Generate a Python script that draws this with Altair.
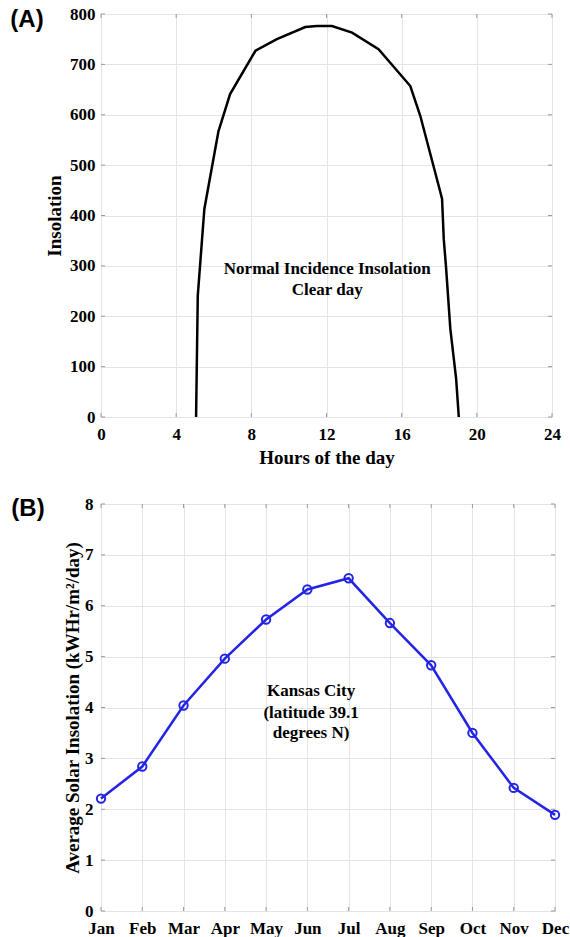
import altair as alt
import pandas as pd

# ---- Panel A data ----
hours = [5.06, 5.15, 5.50, 6.25, 6.87, 8.22, 9.36, 10.87, 11.49, 12.29, 13.36, 14.77, 16.46, 16.99, 17.97, 18.15, 18.24, 18.36, 18.59, 18.90, 19.04]
insolation = [0, 241, 413, 567, 641, 727, 750, 774, 776, 776, 763, 730, 657, 598, 459, 433, 353, 298, 175, 75, 0]
x_ticks_a = [0, 4, 8, 12, 16, 20, 24]
y_ticks_a = [0, 100, 200, 300, 400, 500, 600, 700, 800]
anno_a_text = ["Normal Incidence Insolation", "Clear day"]
anno_a_x = [12.04, 12.04]
anno_a_y = [294, 253]

# ---- Panel B data ----
months = ["Jan", "Feb", "Mar", "Apr", "May", "Jun", "Jul", "Aug", "Sep", "Oct", "Nov", "Dec"]
avg_insolation = [2.21, 2.84, 4.04, 4.96, 5.73, 6.32, 6.54, 5.66, 4.83, 3.50, 2.42, 1.89]
y_ticks_b = [0, 1, 2, 3, 4, 5, 6, 7, 8]
anno_b_text = ["Kansas City", "(latitude 39.1", "degrees N)"]
anno_b_x = [5.09, 5.09, 5.09]
anno_b_y = [4.32, 3.89, 3.50]

W_A, H_A = 451, 403
W_B, H_B = 454, 407
SERIF = "Liberation Serif"
SANS = "Liberation Sans"
TICK = 4
EDGE = "#9a9a9a"

def axis(values, title, orient, label_expr=None, title_pad=4, label_pad=6):
    kw = dict(values=values, title=title, orient=orient, grid=True, ticks=False, domain=False,
              labelFont=SERIF, labelFontWeight="bold", labelFontSize=17, labelColor="black",
              titleFont=SERIF, titleFontWeight="bold", titleFontSize=19, titleColor="black",
              gridColor="#e4e4e4", gridWidth=1, labelPadding=label_pad, titlePadding=title_pad,
              labelFlush=False)
    if label_expr:
        kw["labelExpr"] = label_expr
    return alt.Axis(**kw)

# ---------- Panel A ----------
dfa = pd.DataFrame({"h": hours, "v": insolation})
XA = alt.X("h:Q", scale=alt.Scale(domain=[0, 24], nice=False),
           axis=axis(x_ticks_a, "Hours of the day", "bottom", label_pad=9, title_pad=6))
YA = alt.Y("v:Q", scale=alt.Scale(domain=[0, 800], nice=False),
           axis=axis(y_ticks_a, "Insolation", "left", label_pad=6, title_pad=5))

line_a = alt.Chart(dfa).mark_line(color="black", strokeWidth=2.5).encode(x=XA, y=YA)
xt_a = pd.DataFrame({"h": x_ticks_a})
yt_a = pd.DataFrame({"v": y_ticks_a})
ticks_a = [
    alt.Chart(xt_a).mark_rule(color=EDGE).encode(x=XA, y=alt.value(0), y2=alt.value(TICK)),
    alt.Chart(xt_a).mark_rule(color=EDGE).encode(x=XA, y=alt.value(H_A), y2=alt.value(H_A - TICK)),
    alt.Chart(yt_a).mark_rule(color=EDGE).encode(y=YA, x=alt.value(0), x2=alt.value(TICK)),
    alt.Chart(yt_a).mark_rule(color=EDGE).encode(y=YA, x=alt.value(W_A), x2=alt.value(W_A - TICK)),
]
anno_a = alt.Chart(pd.DataFrame({"h": anno_a_x, "v": anno_a_y, "t": anno_a_text})).mark_text(
    font=SERIF, fontWeight="bold", fontSize=17, color="black", align="center", baseline="middle"
).encode(x=XA, y=YA, text="t:N")
lab_a = alt.Chart(pd.DataFrame({"t": ["(A)"]})).mark_text(
    font=SANS, fontWeight="bold", fontSize=24, color="black", align="center", baseline="middle"
).encode(x=alt.value(-74), y=alt.value(6), text="t:N")

panel_a = alt.layer(line_a, *ticks_a, anno_a, lab_a).properties(width=W_A, height=H_A)

# ---------- Panel B ----------
month_idx = list(range(len(months)))
dfb = pd.DataFrame({"m": month_idx, "s": avg_insolation})
month_expr = "[" + ",".join("'%s'" % m for m in months) + "][datum.value]"
XB = alt.X("m:Q", scale=alt.Scale(domain=[0, 11], nice=False),
           axis=axis(month_idx, None, "bottom", label_expr=month_expr, label_pad=9))
YB = alt.Y("s:Q", scale=alt.Scale(domain=[0, 8], nice=False),
           axis=axis(y_ticks_b, "Average Solar Insolation (kWHr/m\u00b2/day)", "left", label_pad=8, title_pad=2))

line_b = alt.Chart(dfb).mark_line(color="#2424e6", strokeWidth=2.5).encode(x=XB, y=YB)
pts_b = alt.Chart(dfb).mark_point(shape="circle", filled=False, color="#2424e6", strokeWidth=2, size=70, opacity=1).encode(x=XB, y=YB)
xt_b = pd.DataFrame({"m": month_idx})
yt_b = pd.DataFrame({"s": y_ticks_b})
ticks_b = [
    alt.Chart(xt_b).mark_rule(color=EDGE).encode(x=XB, y=alt.value(0), y2=alt.value(TICK)),
    alt.Chart(xt_b).mark_rule(color=EDGE).encode(x=XB, y=alt.value(H_B), y2=alt.value(H_B - TICK)),
    alt.Chart(yt_b).mark_rule(color=EDGE).encode(y=YB, x=alt.value(0), x2=alt.value(TICK)),
    alt.Chart(yt_b).mark_rule(color=EDGE).encode(y=YB, x=alt.value(W_B), x2=alt.value(W_B - TICK)),
]
anno_b = alt.Chart(pd.DataFrame({"m": anno_b_x, "s": anno_b_y, "t": anno_b_text})).mark_text(
    font=SERIF, fontWeight="bold", fontSize=17, color="black", align="center", baseline="middle"
).encode(x=XB, y=YB, text="t:N")
lab_b = alt.Chart(pd.DataFrame({"t": ["(B)"]})).mark_text(
    font=SANS, fontWeight="bold", fontSize=24, color="black", align="center", baseline="middle"
).encode(x=alt.value(-73), y=alt.value(5), text="t:N")

panel_b = alt.layer(*ticks_b, line_b, pts_b, anno_b, lab_b).properties(width=W_B, height=H_B)

chart = alt.vconcat(panel_a, panel_b, spacing=26).properties(
    padding={"left": 9, "top": 4, "right": 0, "bottom": 0}
).configure_view(stroke=EDGE, strokeWidth=1.2).configure(background="white")

chart.save("out.html", embed_options={"renderer": "svg", "actions": False})
